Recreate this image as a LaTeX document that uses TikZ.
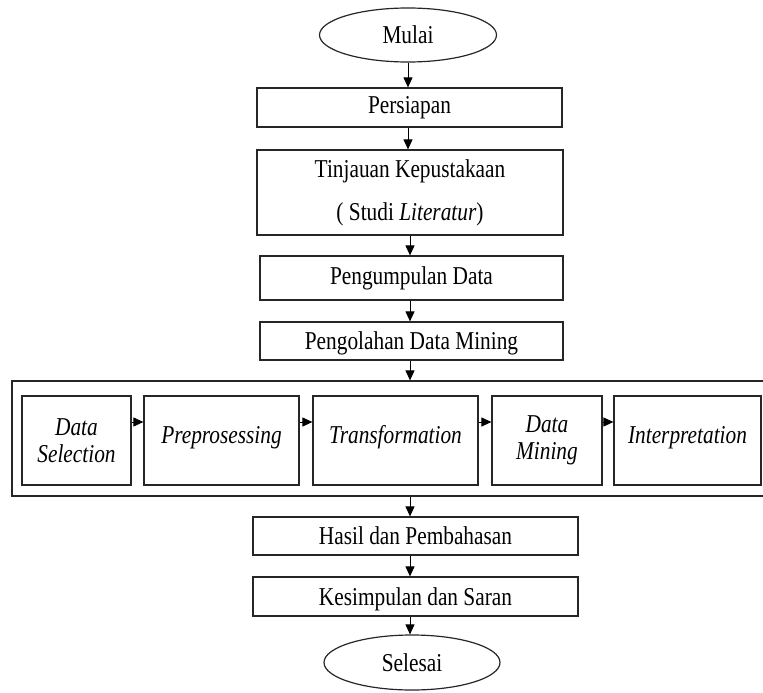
\documentclass[tikz,border=0pt]{standalone}
\usepackage{fontspec}
\setmainfont[FakeStretch=0.83]{Liberation Serif}
\usetikzlibrary{shapes.geometric,arrows.meta}
\begin{document}
\begin{tikzpicture}[x=1pt,y=-1pt,-{Triangle[length=10pt,width=9pt]},line width=1pt,
	nodes={draw=black!85, line width=1.2pt, inner sep=0pt, align=center, font=\fontsize{25.7}{26.5}\selectfont},
	box/.style={rectangle},
	term/.style={ellipse}]
			\useasboundingbox (0,0) rectangle (763,693);
			\node (mulai) [term, minimum width=177, minimum height=54] at (408,35) {Mulai};
			\node (siap) [box, minimum width=305, minimum height=39] at (409.5,107.5) {Persiapan};
			\node (tinjau) [box, minimum width=306, minimum height=85] at (410,192.5) {Tinjauan Kepustakaan\\[16.5pt]( Studi \textit{Literatur})};
			\node (kumpul) [box, minimum width=303, minimum height=44] at (411.5,278) {Pengumpulan Data};
			\node (olah) [box, minimum width=303, minimum height=38, text depth=0pt] at (411.5,341) {Pengolahan Data Mining};
			\node (proses) [box, minimum width=756, minimum height=115] at (390,438.5) {};
			\node (sel) [box, minimum width=109, minimum height=89] at (76.5,440.5) {\textit{Data}\\\textit{Selection}};
			\node (pre) [box, minimum width=155, minimum height=89, text depth=12pt] at (221.5,440.5) {\textit{Preprosessing}};
			\node (trans) [box, minimum width=165, minimum height=89, text depth=12pt] at (395.5,440.5) {\textit{Transformation}};
			\node (dm) [box, minimum width=110, minimum height=89] at (547,440.5) {\textit{Data}\\\textit{Mining}};
			\node (interp) [box, minimum width=147, minimum height=89, text depth=12pt] at (687.5,440.5) {\textit{Interpretation}};
			\node (hasil) [box, minimum width=325, minimum height=38] at (415.5,536) {Hasil dan Pembahasan};
			\node (simpul) [box, minimum width=325, minimum height=39, text depth=0pt] at (415.5,596.5) {Kesimpulan dan Saran};
			\node (selesai) [term, minimum width=176, minimum height=55] at (412,662.5) {Selesai};
			\draw (mulai.south) -- (mulai.south |- siap.north);
			\draw (mulai.south |- siap.south) -- (mulai.south |- tinjau.north);
			\draw (tinjau.south) -- (tinjau.south |- kumpul.north);
			\draw (tinjau.south |- kumpul.south) -- (tinjau.south |- olah.north);
			\draw (tinjau.south |- olah.south) -- (tinjau.south |- proses.north);
			\draw (tinjau.south |- proses.south) -- (tinjau.south |- hasil.north);
			\draw (tinjau.south |- hasil.south) -- (tinjau.south |- simpul.north);
			\draw (tinjau.south |- simpul.south) -- (tinjau.south |- selesai.north);
			\draw ([yshift=18.5pt]sel.east) -- ([yshift=18.5pt]pre.west);
			\draw ([yshift=18.5pt]pre.east) -- ([yshift=18.5pt]trans.west);
			\draw ([yshift=18.5pt]trans.east) -- ([yshift=18.5pt]dm.west);
			\draw ([yshift=18.5pt]dm.east) -- ([yshift=18.5pt]interp.west);
		\end{tikzpicture}
\end{document}
